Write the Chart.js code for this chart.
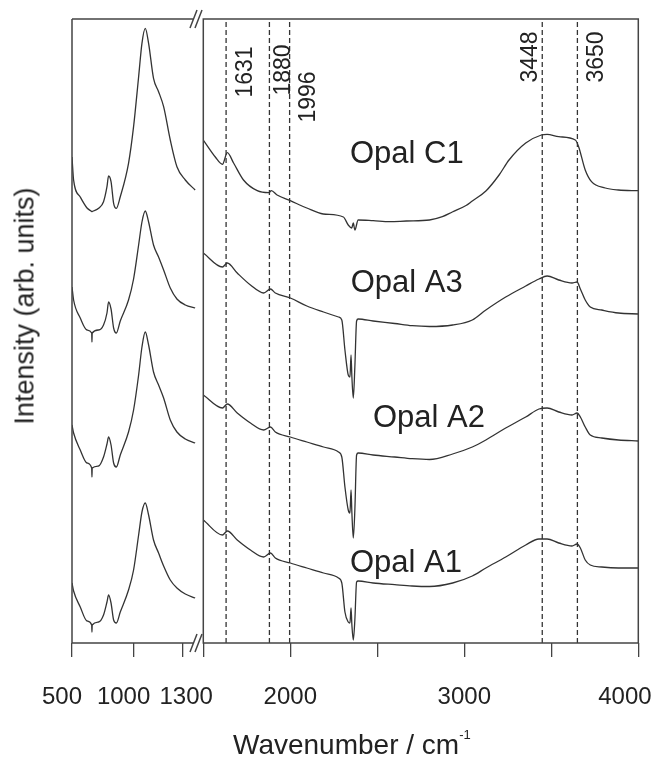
<!DOCTYPE html>
<html>
<head>
<meta charset="utf-8">
<title>Opal IR spectra</title>
<script src="https://cdn.jsdelivr.net/npm/chart.js@4.4.1/dist/chart.umd.min.js"></script>
<style>
  html, body { margin: 0; padding: 0; background: #fff; }
  body { width: 659px; height: 759px; position: relative; overflow: hidden;
         font-family: "Liberation Sans", Arial, sans-serif; color: #222; }
  #leftWrap { position: absolute; left: 0; top: 0; width: 216px; height: 759px; }
  #rightWrap { position: absolute; left: 200px; top: 0; width: 459px; height: 759px; }
  .ytitle { position: absolute; left: 25px; top: 306px; transform: translate(-50%, -50%) rotate(-90deg);
            font-size: 27px; white-space: nowrap; }
  .xtitle { position: absolute; left: 233px; top: 731px; font-size: 28px; line-height: 28px; white-space: nowrap; }
  .xtitle sup { font-size: 13px; vertical-align: baseline; position: relative; top: -15px; }
</style>
</head>
<body>
<div id="leftWrap"><canvas id="leftChart"></canvas></div>
<div id="rightWrap"><canvas id="rightChart"></canvas></div>
<div class="ytitle">Intensity (arb. units)</div>
<div class="xtitle">Wavenumber / cm<sup>-1</sup></div>

<script>
// left panel (500 - 1500 cm-1)
const leftWn = [500, 513, 567, 622, 660, 662, 664, 716, 756, 784, 797, 817, 838, 860, 892, 959, 1000, 1041, 1068, 1095, 1122, 1162, 1203, 1244, 1298, 1352, 1420, 1500];
const c1Left = [486, 463, 446, 435, 431.5, 431.3, 431.5, 434.7, 441.3, 456.3, 467, 461.3, 439.7, 434.7, 446.3, 479.7, 516.3, 566.3, 599.7, 614.7, 599.7, 564.7, 551.3, 536.3, 503, 476.3, 463, 453];
const a3Left = [356, 343, 325, 313, 310, 301, 310, 313, 318, 330, 341, 334, 315, 310, 322, 343, 364, 398, 421, 432, 421, 398, 386, 373, 355, 344, 338, 335];
const a2Left = [218, 210, 193, 180, 175, 166, 175, 177, 186, 199, 206, 198, 180, 176, 188, 211, 233, 268, 296, 311, 298, 271, 258, 245, 223, 211, 204, 200];
const a1Left = [60, 52, 36, 22, 18, 11, 18, 21, 28, 41, 48, 40, 23, 20, 31, 53, 73, 108, 131, 140, 128, 103, 90, 77, 63, 55, 49, 45];

// right panel (1500 - 4000 cm-1)
const rightWnC1 = [1500, 1569, 1610, 1638, 1674, 1731, 1810, 1876, 1891, 1924, 2000, 2095, 2189, 2305, 2333, 2353, 2362, 2371, 2390, 2476, 2571, 2667, 2800, 2874, 2931, 3010, 3046, 3124, 3200, 3257, 3353, 3443, 3476, 3543, 3638, 3657, 3695, 3731, 3810, 3886, 4000];
const c1Right = [503, 486, 478.7, 490.3, 480, 463, 452.3, 450.3, 452.3, 448, 442.3, 435, 429, 426, 418, 415, 420, 413, 423, 422.3, 421.3, 422, 423, 426.3, 431, 437.5, 442, 452, 468, 483, 500, 508, 508.7, 506.3, 503, 496.3, 473, 461.3, 455, 453, 452.3];
const rightWnA = [1500, 1610, 1638, 1695, 1771, 1847, 1886, 1914, 2000, 2095, 2191, 2277, 2296, 2314, 2333, 2343, 2349, 2354, 2362, 2371, 2381, 2390, 2476, 2600, 2700, 2800, 2933, 3046, 3124, 3238, 3353, 3429, 3476, 3543, 3619, 3648, 3667, 3695, 3724, 3790, 3886, 4000];
const a3Right = [390, 376, 380, 370, 358, 350, 354, 350, 345, 337, 331, 326, 323, 293, 268, 266, 288, 266, 245, 276, 322, 324, 322, 319.5, 317.3, 316.5, 318, 323, 333, 346, 357, 364, 367, 363, 360, 361, 354, 343, 336, 333, 330, 329];
const a2Right = [248, 235, 239, 230, 220, 213, 216, 211, 206, 201, 196, 191, 186, 156, 133, 130, 153, 130, 105, 133, 188, 190, 188, 186, 184.3, 183.5, 189, 196, 203, 215, 226, 234, 235, 231, 228, 230, 226, 216, 208, 205, 203, 202];
const a1Right = [123, 108, 112, 103, 93, 86, 90, 85, 80, 75, 70, 65, 60, 31, 21, 20, 35, 18, 3, 23, 61, 62, 60, 58.3, 57, 56.5, 60, 67, 75, 86, 98, 104, 104, 100, 97, 99, 95, 83, 78, 76, 75, 75];

const leftTicks = [500, 1000, 1400];
const leftTickLabels = ['500', '1000', '1300'];
const rightTicks = [1500, 2000, 2500, 3000, 3500, 4000];
const rightTickLabels = ['', '2000', '', '3000', '', '4000'];

const bandLines = [1631, 1880, 1996, 3448, 3650];
const bandLabels = ['1631', '1880', '1996', '3448', '3650'];
const sampleNames = ['Opal C1', 'Opal A3', 'Opal A2', 'Opal A1'];

// where the texts sit (wavenumber, intensity)
const bandLabelAt = [[1780, 571], [1998, 573], [2142, 546], [3420, 586], [3797, 586]];
const nameAt = [[2343, 480], [2347, 351], [2475, 216], [2343, 71]];

const FONT = '"Liberation Sans", Arial, sans-serif';
const LINE = '#333';
const FRAME = '#444';

const pts = (xs, ys) => xs.map((x, i) => ({ x: x, y: ys[i] }));
// spaces nudge a centred tick label sideways (neg = trailing)
const nudge = (t, n) => n < 0 ? t + ' '.repeat(-n) : ' '.repeat(n) + t;
const leftNudge = [-3, -3, 1];

function spectrum(xs, ys) {
    return {
        data: pts(xs, ys),
        borderColor: LINE,
        borderWidth: 1.3,
        pointRadius: 0,
        fill: false,
        cubicInterpolationMode: 'monotone'
    };
}

function xAxis(min, max, ticks, labelFn) {
    return {
        type: 'linear',
        min: min,
        max: max,
        afterBuildTicks: s => { s.ticks = ticks.map(v => ({ value: v })); },
        afterFit: s => { s.height = 116; s.paddingLeft = 0; s.paddingRight = 0; },
        border: { display: false },
        grid: { drawOnChartArea: false, drawTicks: true, tickLength: 14, color: FRAME, lineWidth: 1.3 },
        ticks: {
            autoSkip: false,
            maxRotation: 0,
            padding: 26,
            color: '#222',
            font: { family: FONT, size: 24 },
            callback: labelFn
        }
    };
}

const leftFrame = {
    id: 'leftFrame',
    afterDraw(chart) {
        const { ctx, chartArea: a } = chart;
        ctx.save();
        ctx.strokeStyle = FRAME;
        ctx.lineWidth = 1.5;
        ctx.beginPath();
        ctx.moveTo(a.left, a.top); ctx.lineTo(a.left, a.bottom);
        ctx.moveTo(a.left, a.top); ctx.lineTo(a.right - 4, a.top);
        ctx.moveTo(a.left, a.bottom); ctx.lineTo(a.right - 4, a.bottom);
        // axis break marks
        [a.top, a.bottom].forEach(y => {
            [a.right - 7, a.right - 2].forEach(x0 => {
                ctx.moveTo(x0, y + 9);
                ctx.lineTo(x0 + 7, y - 9);
            });
        });
        ctx.stroke();
        ctx.restore();
    }
};

const rightFrame = {
    id: 'rightFrame',
    afterDraw(chart) {
        const { ctx, chartArea: a } = chart;
        ctx.save();
        ctx.strokeStyle = FRAME;
        ctx.lineWidth = 1.5;
        ctx.strokeRect(a.left, a.top, a.right - a.left, a.bottom - a.top);
        ctx.restore();
    }
};

const textLabels = {
    id: 'textLabels',
    afterDatasetsDraw(chart) {
        const { ctx } = chart;
        const xs = chart.scales.x, ys = chart.scales.y;
        ctx.save();
        ctx.fillStyle = '#222';
        ctx.textBaseline = 'alphabetic';

        ctx.font = '31px ' + FONT;
        ctx.textAlign = 'left';
        sampleNames.forEach((t, i) => {
            ctx.fillText(t, xs.getPixelForValue(nameAt[i][0]), ys.getPixelForValue(nameAt[i][1]));
        });

        ctx.font = '23px ' + FONT;
        ctx.textAlign = 'center';
        bandLabels.forEach((t, i) => {
            ctx.save();
            ctx.translate(xs.getPixelForValue(bandLabelAt[i][0]), ys.getPixelForValue(bandLabelAt[i][1]));
            ctx.rotate(-Math.PI / 2);
            ctx.fillText(t, 0, 0);
            ctx.restore();
        });
        ctx.restore();
    }
};

const yScale = (show) => {
    const s = {
        display: show,
        min: 0,
        max: 624,
        ticks: { display: false },
        grid: { display: false },
        border: { display: false }
    };
    if (show) s.afterFit = sc => { sc.width = 72; };
    return s;
};

new Chart(document.getElementById('leftChart'), {
    type: 'line',
    data: {
        datasets: [
            spectrum(leftWn, c1Left),
            spectrum(leftWn, a3Left),
            spectrum(leftWn, a2Left),
            spectrum(leftWn, a1Left)
        ]
    },
    options: {
        responsive: true,
        maintainAspectRatio: false,
        animation: false,
        layout: { padding: { top: 19, right: 19, bottom: 0, left: 0 } },
        plugins: { legend: { display: false }, tooltip: { enabled: false } },
        scales: {
            x: xAxis(500, 1515, leftTicks, (v, i) => nudge(leftTickLabels[i], leftNudge[i])),
            y: yScale(true)
        }
    },
    plugins: [leftFrame]
});

const dashSets = bandLines.map(v => ({
    data: [{ x: v, y: 0 }, { x: v, y: 624 }],
    borderColor: LINE,
    borderWidth: 1.3,
    borderDash: [5, 3],
    pointRadius: 0,
    fill: false
}));

new Chart(document.getElementById('rightChart'), {
    type: 'line',
    data: {
        datasets: [
            spectrum(rightWnC1, c1Right),
            spectrum(rightWnA, a3Right),
            spectrum(rightWnA, a2Right),
            spectrum(rightWnA, a1Right)
        ].concat(dashSets)
    },
    options: {
        responsive: true,
        maintainAspectRatio: false,
        animation: false,
        layout: { padding: { top: 19, right: 20.7, bottom: 0, left: 3.3 } },
        plugins: { legend: { display: false }, tooltip: { enabled: false } },
        scales: {
            x: xAxis(1500, 4000, rightTicks, (v, i) => i === rightTicks.length - 1 ? nudge(rightTickLabels[i], -4) : rightTickLabels[i]),
            y: yScale(false)
        }
    },
    plugins: [rightFrame, textLabels]
});
</script>
</body>
</html>
